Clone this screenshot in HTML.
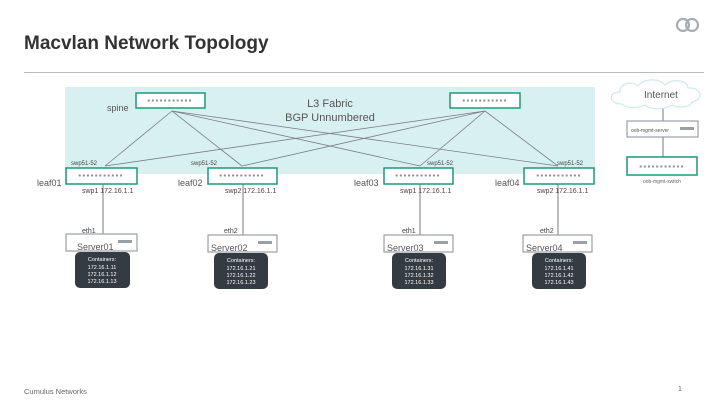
<!DOCTYPE html>
<html><head><meta charset="utf-8"><style>
body{margin:0;background:#fff;}
svg{display:block;font-family:"Liberation Sans",sans-serif;}
</style></head><body>
<svg width="720" height="405" viewBox="0 0 720 405">
<text x="24" y="49" font-size="19" font-weight="bold" fill="#333">Macvlan Network Topology</text>
<line x1="24" y1="72.5" x2="704" y2="72.5" stroke="#b8bcc0" stroke-width="1"/>
<g fill="none" stroke="#a8adb3" stroke-width="2.2"><circle cx="683" cy="25" r="6"/><circle cx="692" cy="25" r="6"/></g>
<rect x="65" y="87" width="530" height="87" fill="#d9f0f1"/>
<text x="330" y="107" font-size="11" fill="#555" text-anchor="middle">L3 Fabric</text>
<text x="330" y="121" font-size="11" fill="#555" text-anchor="middle">BGP Unnumbered</text>
<g stroke="#7a8086" stroke-width="0.8">
<line x1="172" y1="111" x2="105" y2="166"/><line x1="172" y1="111" x2="242" y2="166"/>
<line x1="172" y1="111" x2="420" y2="166"/><line x1="172" y1="111" x2="558" y2="166"/>
<line x1="485" y1="111" x2="105" y2="166"/><line x1="485" y1="111" x2="242" y2="166"/>
<line x1="485" y1="111" x2="420" y2="166"/><line x1="485" y1="111" x2="558" y2="166"/>
</g>
<g stroke="#8a9096" stroke-width="1.2">
<line x1="103" y1="183" x2="103" y2="235"/><line x1="243" y1="183" x2="243" y2="235"/>
<line x1="420" y1="183" x2="420" y2="235"/><line x1="558" y1="183" x2="558" y2="235"/>
<line x1="663" y1="108" x2="663" y2="121"/><line x1="663" y1="137" x2="663" y2="157"/>
</g>
<g fill="#fff" stroke="#1a9a78" stroke-width="1.5">
<rect x="136" y="93" width="69" height="15"/><rect x="450" y="93" width="70" height="15"/>
<rect x="66" y="168" width="71" height="16"/><rect x="208" y="168" width="69" height="16"/>
<rect x="384" y="168" width="69" height="16"/><rect x="524" y="168" width="70" height="16"/>
<rect x="627" y="157" width="70" height="18"/>
</g>
<g font-size="8" fill="#8a9096" letter-spacing="1.3" text-anchor="middle">
<text x="170" y="103">▪▪▪▪▪▪▪▪▪▪▪</text><text x="485" y="103">▪▪▪▪▪▪▪▪▪▪▪</text>
<text x="101" y="178">▪▪▪▪▪▪▪▪▪▪▪</text><text x="242" y="178">▪▪▪▪▪▪▪▪▪▪▪</text>
<text x="418" y="178">▪▪▪▪▪▪▪▪▪▪▪</text><text x="559" y="178">▪▪▪▪▪▪▪▪▪▪▪</text>
<text x="662" y="169">▪▪▪▪▪▪▪▪▪▪▪</text>
</g>
<g font-size="9" fill="#555">
<text x="107" y="111">spine</text>
<text x="37" y="186">leaf01</text><text x="178" y="186">leaf02</text>
<text x="354" y="186">leaf03</text><text x="495" y="186">leaf04</text>
</g>
<g font-size="6" fill="#444">
<text x="71" y="165">swp51-52</text><text x="191" y="165">swp51-52</text>
<text x="427" y="165">swp51-52</text><text x="557" y="165">swp51-52</text>
</g>
<g font-size="7" fill="#444">
<text x="82" y="193">swp1 172.16.1.1</text><text x="225" y="193">swp2 172.16.1.1</text>
<text x="400" y="193">swp1 172.16.1.1</text><text x="537" y="193">swp2 172.16.1.1</text>
<text x="82" y="233">eth1</text><text x="224" y="233">eth2</text>
<text x="402" y="233">eth1</text><text x="540" y="233">eth2</text>
</g>
<g fill="#fff" stroke="#9aa0a6" stroke-width="1.2">
<rect x="66" y="234" width="71" height="17"/><rect x="208" y="235" width="69" height="17"/>
<rect x="384" y="235" width="69" height="17"/><rect x="523" y="235" width="69" height="17"/>
<rect x="627" y="121" width="71" height="16"/>
</g>
<g fill="#9aa0a6">
<rect x="118" y="240" width="14" height="3"/><rect x="258" y="241" width="14" height="3"/>
<rect x="434" y="241" width="14" height="3"/><rect x="573" y="241" width="14" height="3"/>
<rect x="680" y="127" width="14" height="3"/>
</g>
<g font-size="9" fill="#555">
<text x="77" y="250">Server01</text><text x="211" y="251">Server02</text>
<text x="387" y="251">Server03</text><text x="526" y="251">Server04</text>
</g>
<g fill="#353b42">
<rect x="75" y="252" width="55" height="36" rx="5"/><rect x="214" y="253" width="54" height="36" rx="5"/>
<rect x="392" y="253" width="54" height="36" rx="5"/><rect x="532" y="253" width="54" height="36" rx="5"/>
</g>
<g font-size="5.5" fill="#fff" text-anchor="middle">
<text x="102" y="261">Containers:</text><text x="102" y="269">172.16.1.11</text><text x="102" y="276">172.16.1.12</text><text x="102" y="283">172.16.1.13</text>
<text x="241" y="262">Containers:</text><text x="241" y="270">172.16.1.21</text><text x="241" y="277">172.16.1.22</text><text x="241" y="284">172.16.1.23</text>
<text x="419" y="262">Containers:</text><text x="419" y="270">172.16.1.31</text><text x="419" y="277">172.16.1.32</text><text x="419" y="284">172.16.1.33</text>
<text x="559" y="262">Containers:</text><text x="559" y="270">172.16.1.41</text><text x="559" y="277">172.16.1.42</text><text x="559" y="284">172.16.1.43</text>
</g>
<path d="M622,104 C608,104 608,92 620,92 C618,84 632,80 638,86 C644,78 660,78 665,85 C672,78 688,80 688,88 C702,87 704,100 692,102 C690,108 676,108 672,105 C664,110 650,110 645,105 C636,109 626,108 622,104 Z" fill="#fff" stroke="#cfe9ea" stroke-width="1.2"/>
<text x="661" y="98" font-size="10" fill="#555" text-anchor="middle">Internet</text>
<text x="631" y="132" font-size="5" fill="#555">oob-mgmt-server</text>
<text x="662" y="183" font-size="5" fill="#666" text-anchor="middle">oob-mgmt-switch</text>
<text x="24" y="394" font-size="7.5" fill="#666">Cumulus Networks</text>
<text x="678" y="391" font-size="7" fill="#666">1</text>
</svg>
</body></html>
